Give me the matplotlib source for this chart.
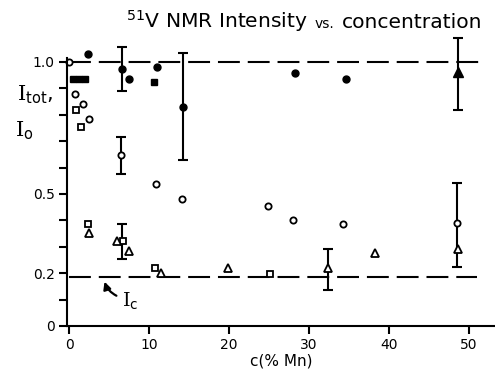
import matplotlib
matplotlib.use('Agg')
import matplotlib.pyplot as plt
import numpy as np

# I_tot (filled circles)
tot_c = [2.3, 6.6, 7.5, 11.0, 14.2, 28.2, 34.7]
tot_v = [1.03, 0.973, 0.935, 0.982, 0.828, 0.957, 0.935]
# filled squares
fsq_c = [0.5, 1.2, 1.9, 10.6]
fsq_v = [0.934, 0.934, 0.934, 0.923]
# filled triangle
ftri_c = [48.7]
ftri_v = [0.961]
# I_0 (open circles)
o_c = [0.0, 0.75, 1.7, 2.5, 6.5, 10.9, 14.1, 24.9, 28.0, 34.3, 48.5]
o_v = [1.0, 0.879, 0.84, 0.783, 0.648, 0.537, 0.48, 0.456, 0.40, 0.386, 0.389]
# open squares
sq_c = [0.84, 1.4, 2.3, 6.7, 10.7, 25.1]
sq_v = [0.818, 0.755, 0.385, 0.323, 0.218, 0.196]
# open triangles
tri_c = [2.4, 5.9, 7.5, 11.5, 19.9, 32.4, 38.3, 48.7]
tri_v = [0.351, 0.322, 0.284, 0.202, 0.22, 0.218, 0.278, 0.29]
# error bars
eb_c = [6.6, 14.2, 48.7, 6.5, 6.6, 32.4, 48.5]
eb_mid = [0.973, 0.828, 0.961, 0.648, 0.323, 0.218, 0.389]
eb_lo = [0.89, 0.629, 0.82, 0.575, 0.253, 0.136, 0.222]
eb_hi = [1.056, 1.033, 1.09, 0.715, 0.386, 0.29, 0.54]

I_norm = 1.0
I_c = 0.185

plt.rcParams['mathtext.fontset'] = 'dejavuserif'
fig = plt.figure(figsize=(4.95, 3.75), dpi=100)
ax = fig.add_axes([0.1354, 0.1307, 0.8646, 0.7885])

dash = dict(color='black', lw=1.5, dashes=(10.5, 3.8))
ax.plot([0, 51.5], [I_norm, I_norm], **dash)
ax.plot([0, 51], [I_c, I_c], **dash)

lo = np.array(eb_mid) - np.array(eb_lo)
hi = np.array(eb_hi) - np.array(eb_mid)
ax.errorbar(eb_c, eb_mid, yerr=[lo, hi], fmt='none', ecolor='black',
            elinewidth=1.5, capsize=3.6, capthick=1.5, clip_on=False)

ax.plot(tot_c, tot_v, 'o', color='black', ms=5, clip_on=False)
ax.plot(fsq_c, fsq_v, 's', color='black', ms=5, clip_on=False)
ax.plot(ftri_c, ftri_v, '^', color='black', ms=6.5, clip_on=False)
ax.plot(o_c, o_v, 'o', mfc='white', mec='black', mew=1.3, ms=4.5, clip_on=False)
ax.plot(sq_c, sq_v, 's', mfc='white', mec='black', mew=1.3, ms=4.5, clip_on=False)
ax.plot(tri_c, tri_v, '^', mfc='white', mec='black', mew=1.3, ms=6, clip_on=False)

ax.set_xlim(-0.3, 53.3)
ax.set_ylim(0, 1.12)
for s in ['top', 'right']:
    ax.spines[s].set_visible(False)
ax.spines['left'].set_bounds(0, 1.015)
ax.spines['left'].set_linewidth(1.5)
ax.spines['bottom'].set_linewidth(1.5)

ax.set_xticks([0, 10, 20, 30, 40, 50])
ax.set_xticklabels(['0', '10', '20', '30', '40', '50'])
yt = np.round(np.arange(0, 1.01, 0.1), 1)
ylab = {0.0: '0', 0.2: '0.2', 0.5: '0.5', 1.0: '1.0'}
ax.set_yticks(yt)
ax.set_yticklabels([ylab.get(v, '') for v in yt])
ax.tick_params(direction='out', length=6, width=1.5, labelsize=10, pad=3)

ax.set_xlabel('c(% Mn)', fontsize=11, labelpad=1)

# y label pieces
fig.text(17 / 495, 1 - 95 / 375, r'$\mathrm{I}_{\mathsf{tot}}$,', fontsize=15, va='center', ha='left')
fig.text(15 / 495, 1 - 131 / 375, r'$\mathrm{I}_{\mathsf{o}}$', fontsize=15, va='center', ha='left')

# I_c label and arrow
ax.text(6.6, 0.095, r'$\mathrm{I}_{\mathsf{c}}$', fontsize=14, va='center', ha='left')
ax.annotate('', xy=(4.3, 0.178), xytext=(6.2, 0.11),
            arrowprops=dict(arrowstyle='-|>', color='black', lw=1.6,
                            connectionstyle='arc3,rad=-0.25', mutation_scale=11))

# title built from pieces
y0 = 1 - 28 / 375
gap = 7 / 495
t1 = fig.text(126 / 495, y0, r'$^{\mathsf{51}}$V NMR Intensity', fontsize=14.6, va='baseline')
fig.canvas.draw()
r = fig.canvas.get_renderer()
x1 = t1.get_window_extent(r).x1 / fig.bbox.width + gap
t2 = fig.text(x1, y0, 'vs.', fontsize=10, va='baseline')
fig.canvas.draw()
x2 = t2.get_window_extent(r).x1 / fig.bbox.width + gap
fig.text(x2, y0, 'concentration', fontsize=14.6, va='baseline')

fig.savefig('out.png', dpi=100)
